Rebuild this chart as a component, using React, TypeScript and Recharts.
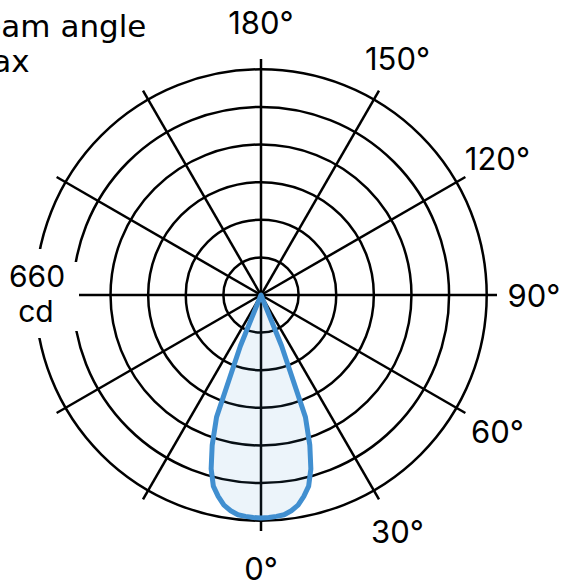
import { RadarChart, PolarGrid, PolarAngleAxis, PolarRadiusAxis, Radar } from 'recharts'

// measured directions, 2 degree steps around the full circle
const ANGLES = Array.from({ length: 180 }, (_, i) => i * 2)

// half profile of the luminous intensity (cd), symmetric about 0 deg
const PROFILE_DEG = [0, 2, 4, 6, 8, 10, 12, 14, 16, 18, 20, 22, 24]
const PROFILE_CD = [652, 651, 649, 646, 637, 624, 602, 576, 529, 462, 380, 161, 0]

const RING_TICKS = [0, 110, 220, 330, 440, 550, 660]
const SPOKES = [0, 30, 60, 90, 120, 150, 180, 210, 240, 270, 300, 330]
const LABELLED = [0, 30, 60, 90, 120, 150, 180]

const MAX_CD = 660

const data = ANGLES.map((angle) => {
  const off = Math.min(angle, 360 - angle)
  const idx = PROFILE_DEG.indexOf(off)
  return { angle, cd: idx >= 0 ? PROFILE_CD[idx] : 0 }
})

const FONT = 'Inter, "Liberation Sans", Arial, sans-serif'

function AngleTick(props: any) {
  const { x, y, payload } = props
  const v = Number(payload.value)
  if (!LABELLED.includes(v)) return <g />
  return (
    <text
      x={x}
      y={y}
      textAnchor="middle"
      dominantBaseline="central"
      fontFamily={FONT}
      fontSize={31}
      fill="#000"
    >
      {v}°
    </text>
  )
}

export default function App() {
  return (
    <div style={{ position: 'absolute', left: 0, top: 0, width: 562, height: 580, background: '#fff' }}>
      <RadarChart
        width={562}
        height={580}
        data={data}
        cx={261}
        cy={295}
        outerRadius={236}
        startAngle={-90}
        endAngle={270}
        margin={{ top: 0, right: 0, bottom: 0, left: 0 }}
      >
        <PolarGrid gridType="circle" stroke="#000" strokeWidth={2.5} strokeOpacity={1} />
        <PolarAngleAxis
          dataKey="angle"
          type="number"
          domain={[0, 360]}
          ticks={SPOKES}
          tick={AngleTick}
          tickLine={false}
          axisLine={false}
          tickSize={37}
        />
        <PolarRadiusAxis
          type="number"
          domain={[0, (MAX_CD * 236) / 225.7]}
          ticks={RING_TICKS}
          tick={false}
          axisLine={false}
        />
        <Radar
          dataKey="cd"
          stroke="#418fd0"
          strokeWidth={5}
          strokeLinejoin="round"
          fill="#418fd0"
          fillOpacity={0.1}
          dot={false}
          isAnimationActive={false}
        />
      </RadarChart>
      <svg
        width={562}
        height={580}
        style={{ position: 'absolute', left: 0, top: 0, pointerEvents: 'none' }}
      >
        <text x={-39} y={37} fontFamily="'DejaVu Sans', sans-serif" fontSize={31} fill="#000">
          Beam angle
        </text>
        <text x={-38} y={72} fontFamily="'DejaVu Sans', sans-serif" fontSize={31} fill="#000">
          max
        </text>
        <rect x={0} y={249} width={50} height={89} fill="#fff" />
        <rect x={0} y={262} width={79} height={69} fill="#fff" />
        <text x={37} y={287} textAnchor="middle" fontFamily={FONT} fontSize={30} fill="#000">
          {MAX_CD}
        </text>
        <text x={36} y={322} textAnchor="middle" fontFamily={FONT} fontSize={30} fill="#000">
          cd
        </text>
      </svg>
    </div>
  )
}
